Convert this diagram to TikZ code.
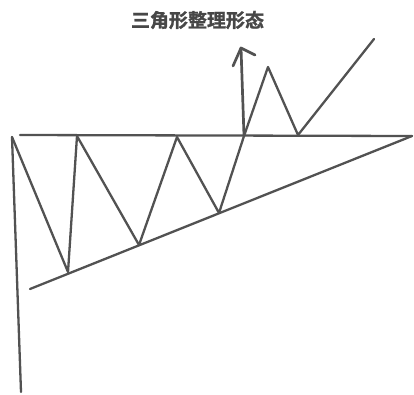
\documentclass[tikz,border=0pt]{standalone}
\usepackage{fontspec}
\newfontfamily\cjk[FakeBold=1.5]{Noto Sans CJK SC Bold}
\begin{document}
\begin{tikzpicture}[x=1pt,y=-1pt,
  chart/.style={draw=black!68,line width=2.3pt,line cap=round,line join=round},
  title/.style={font=\cjk\fontsize{19}{19}\selectfont,text=black!72,inner sep=0pt}]
\useasboundingbox (0,0) rectangle (414,394);
\node[title] (t) at (197.5,20) {三角形整理形态};
% frame lines
\coordinate (vtop) at (12,137);
\coordinate (vbot) at (21,392);
\coordinate (hl) at (20,135);
\coordinate (apex) at (412,136);
\coordinate (low) at (30,289);
% zigzag
\coordinate (z1) at (68,272);
\coordinate (z2) at (77,136);
\coordinate (z3) at (139,245);
\coordinate (z4) at (177,137);
\coordinate (z5) at (219,213);
\coordinate (z6) at (244,136);
\coordinate (z7) at (268,67);
\coordinate (z8) at (298,135);
\coordinate (z9) at (374,39);
% arrow
\coordinate (atip) at (241,48);
\coordinate (abl) at (233,66);
\coordinate (abr) at (255,55);
\draw[chart] (vtop) -- (vbot);
\draw[chart] (hl) -- (apex);
\draw[chart] (low) -- (apex);
\draw[chart] (vtop) -- (z1) -- (z2) -- (z3) -- (z4) -- (z5) -- (z6) -- (z7) -- (z8) -- (z9);
\draw[chart,line width=2.7pt] (z6) -- (atip);
\draw[chart,line width=2.7pt] (abl) -- (atip) -- (abr);
\end{tikzpicture}
\end{document}
